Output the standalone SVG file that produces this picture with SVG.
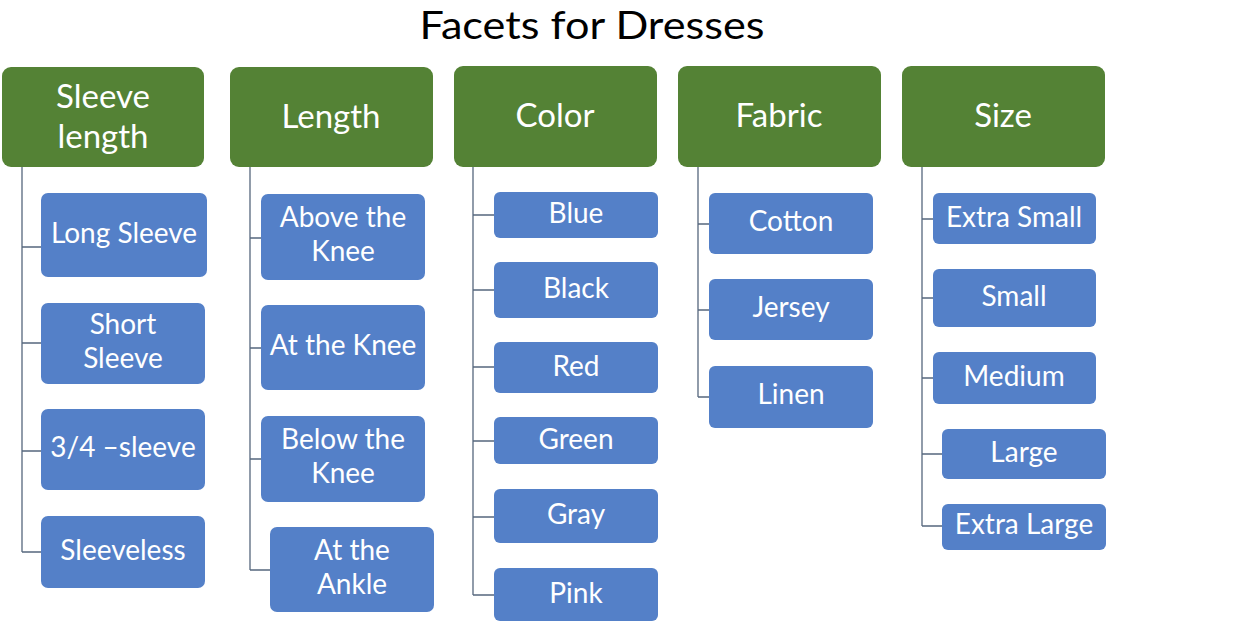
<svg xmlns="http://www.w3.org/2000/svg" width="1234" height="628" viewBox="0 0 1234 628">
<style>
.bg{fill:#ffffff}
.hd{fill:#548235}
.ch{fill:#5480C8}
.t{font-family:Lato,"Open Sans","Liberation Sans",sans-serif;fill:#ffffff;text-anchor:middle}
.ht{font-size:33px}
.ct{font-size:28px}
.title{font-family:Lato,"Open Sans","Liberation Sans",sans-serif;font-size:39px;fill:#000000;text-anchor:middle}
.cn{fill:none;stroke:#56677d;stroke-width:1.3}
</style>
<rect class="bg" x="0" y="0" width="1234" height="628"/>
<text class="title" x="592" y="38.5" textLength="345" lengthAdjust="spacingAndGlyphs">Facets for Dresses</text>

<g id="connectors">
<path class="cn" d="M22,167V552M22,247H41M22,343H41M22,451H41M22,552H41"/>
<path class="cn" d="M250,167V570M250,238H261M250,348H261M250,459H261M250,570H270"/>
<path class="cn" d="M473,167V595M473,215H494M473,290H494M473,367H494M473,441H494M473,517H494M473,595H494"/>
<path class="cn" d="M698,167V397M698,224H709M698,310H709M698,397H709"/>
<path class="cn" d="M922,167V526M922,219H933M922,298H933M922,378H933M922,454H942M922,526H942"/>
</g>

<g id="h-sleeve"><rect class="hd" x="2" y="67" width="202" height="100" rx="9"/><text class="t ht" x="103" y="108">Sleeve</text><text class="t ht" x="103" y="148">length</text></g>
<g id="h-length"><rect class="hd" x="230" y="67" width="203" height="100" rx="9"/><text class="t ht" x="331" y="128">Length</text></g>
<g id="h-color"><rect class="hd" x="454" y="66" width="203" height="101" rx="9"/><text class="t ht" x="555" y="127">Color</text></g>
<g id="h-fabric"><rect class="hd" x="678" y="66" width="203" height="101" rx="9"/><text class="t ht" x="779" y="127">Fabric</text></g>
<g id="h-size"><rect class="hd" x="902" y="66" width="203" height="101" rx="9"/><text class="t ht" x="1003" y="127">Size</text></g>

<g id="c-long-sleeve"><rect class="ch" x="41" y="193" width="166" height="84" rx="7"/><text class="t ct" x="124" y="243">Long Sleeve</text></g>
<g id="c-short-sleeve"><rect class="ch" x="41" y="303" width="164" height="81" rx="7"/><text class="t ct" x="123" y="334">Short</text><text class="t ct" x="123" y="368">Sleeve</text></g>
<g id="c-three-quarter"><rect class="ch" x="41" y="409" width="164" height="81" rx="7"/><text class="t ct" x="123" y="457">3/4 –sleeve</text></g>
<g id="c-sleeveless"><rect class="ch" x="41" y="516" width="164" height="72" rx="7"/><text class="t ct" x="123" y="560">Sleeveless</text></g>

<g id="c-above-knee"><rect class="ch" x="261" y="194" width="164" height="86" rx="7"/><text class="t ct" x="343" y="227">Above the</text><text class="t ct" x="343" y="261">Knee</text></g>
<g id="c-at-knee"><rect class="ch" x="261" y="305" width="164" height="85" rx="7"/><text class="t ct" x="343" y="355">At the Knee</text></g>
<g id="c-below-knee"><rect class="ch" x="261" y="416" width="164" height="86" rx="7"/><text class="t ct" x="343" y="449">Below the</text><text class="t ct" x="343" y="483">Knee</text></g>
<g id="c-ankle"><rect class="ch" x="270" y="527" width="164" height="85" rx="7"/><text class="t ct" x="352" y="560">At the</text><text class="t ct" x="352" y="594">Ankle</text></g>

<g id="c-blue"><rect class="ch" x="494" y="192" width="164" height="46" rx="6"/><text class="t ct" x="576" y="223">Blue</text></g>
<g id="c-black"><rect class="ch" x="494" y="262" width="164" height="56" rx="6"/><text class="t ct" x="576" y="298">Black</text></g>
<g id="c-red"><rect class="ch" x="494" y="342" width="164" height="51" rx="6"/><text class="t ct" x="576" y="376">Red</text></g>
<g id="c-green"><rect class="ch" x="494" y="417" width="164" height="47" rx="6"/><text class="t ct" x="576" y="449">Green</text></g>
<g id="c-gray"><rect class="ch" x="494" y="489" width="164" height="54" rx="6"/><text class="t ct" x="576" y="524">Gray</text></g>
<g id="c-pink"><rect class="ch" x="494" y="568" width="164" height="53" rx="6"/><text class="t ct" x="576" y="603">Pink</text></g>

<g id="c-cotton"><rect class="ch" x="709" y="193" width="164" height="61" rx="6"/><text class="t ct" x="791" y="231">Cotton</text></g>
<g id="c-jersey"><rect class="ch" x="709" y="279" width="164" height="61" rx="6"/><text class="t ct" x="791" y="317">Jersey</text></g>
<g id="c-linen"><rect class="ch" x="709" y="366" width="164" height="62" rx="6"/><text class="t ct" x="791" y="404">Linen</text></g>

<g id="c-extra-small"><rect class="ch" x="933" y="193" width="163" height="51" rx="6"/><text class="t ct" x="1014" y="227">Extra Small</text></g>
<g id="c-small"><rect class="ch" x="933" y="269" width="163" height="58" rx="6"/><text class="t ct" x="1014" y="306">Small</text></g>
<g id="c-medium"><rect class="ch" x="933" y="352" width="163" height="52" rx="6"/><text class="t ct" x="1014" y="386">Medium</text></g>
<g id="c-large"><rect class="ch" x="942" y="429" width="164" height="50" rx="6"/><text class="t ct" x="1024" y="462">Large</text></g>
<g id="c-extra-large"><rect class="ch" x="942" y="504" width="164" height="46" rx="6"/><text class="t ct" x="1024" y="534">Extra Large</text></g>
</svg>
